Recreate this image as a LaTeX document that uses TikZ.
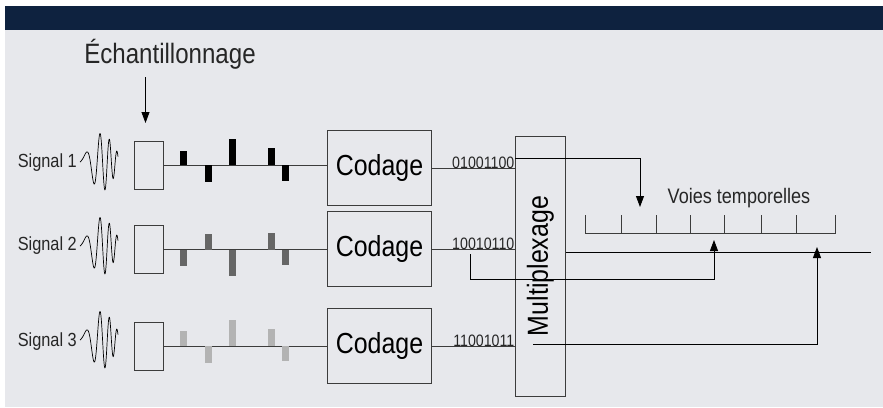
\documentclass[tikz,border=0pt]{standalone}
\usepackage{fontspec}
\setmainfont{Liberation Sans}[FakeStretch=0.86]
\usetikzlibrary{arrows.meta,positioning}

\definecolor{barblue}{HTML}{0E223F}
\definecolor{panel}{HTML}{E7E8EC}
\definecolor{boxline}{HTML}{3C3C3C}
\definecolor{pulsedark}{HTML}{666666}
\definecolor{pulselight}{HTML}{B3B3B3}

\begin{document}
\begin{tikzpicture}[x=1pt,y=-1pt,
  box/.style={draw=boxline,line width=0.9pt,inner sep=0pt},
  wire/.style={draw=boxline,line width=0.8pt},
  arr/.style={black,line width=0.8pt,-{Triangle[length=11pt,width=8pt]}},
  lbl/.style={inner sep=0pt,text=black!85}]
\useasboundingbox (0,0) rectangle (883,407);
\fill[white] (0,0) rectangle (883,407);
\fill[panel] (5,30) rectangle (883,407);
\fill[barblue] (5,6) rectangle (883,30);

% titre
\node[lbl,font=\fontsize{28}{30}\selectfont,anchor=base] (titre) at (170,63) {Échantillonnage};

% echantillonneurs
\node[box,minimum width=29pt,minimum height=48pt] (ech1) at (148.5,165) {};
\node[box,minimum width=29pt,minimum height=48pt] (ech2) at (148.5,249.5) {};
\node[box,minimum width=29pt,minimum height=48pt] (ech3) at (148.5,346) {};

% codeurs
\node[box,minimum width=104pt,minimum height=75pt,font=\fontsize{29}{31}\selectfont] (cod1) at (379.5,168) {Codage};
\node[box,minimum width=104pt,minimum height=75pt,font=\fontsize{29}{31}\selectfont] (cod2) at (379.5,249) {Codage};
\node[box,minimum width=104pt,minimum height=75pt,font=\fontsize{29}{31}\selectfont] (cod3) at (379.5,346) {Codage};

% multiplexeur (tourne : north = gauche, south = droite)
\node[box,rotate=90,minimum width=260pt,minimum height=50.7pt,font=\fontsize{29}{31}\selectfont] (mux) at (540.3,266) {Multiplexage};

% signaux
\node[lbl,font=\fontsize{19}{21}\selectfont,anchor=base east] (sig1) at (77,167) {Signal 1};
\node[lbl,font=\fontsize{19}{21}\selectfont,anchor=base east] (sig2) at (77,250) {Signal 2};
\node[lbl,font=\fontsize{19}{21}\selectfont,anchor=base east] (sig3) at (77,346) {Signal 3};
\foreach \yc in {162,246,340}
  \draw[line width=0.7pt] plot[domain=0:38,samples=160,variable=\u]
    ({80+\u},{\yc-29*exp(-((\u-22)/15)*((\u-22)/15))*sin(360*(0.0327*\u+0.00149*\u*\u))});

% liaisons
\foreach \i in {1,2,3} {
  \draw[wire] (ech\i.east) -- (ech\i.east -| cod\i.west);
  \draw[wire] (cod\i.east) -- (cod\i.east -| mux.north);
}

% echantillons
\foreach \dx/\h in {17/-14,42/17,66/-26,105/-17,119/16}
  \fill[black] ([xshift=\dx pt]ech1.east) rectangle ++(6.5,\h);
\foreach \dx/\h in {17/16,42/-16,66/26,105/-17,119/15}
  \fill[pulsedark] ([xshift=\dx pt]ech2.east) rectangle ++(6.5,\h);
\foreach \dx/\h in {17/-15,42/17,66/-26,105/-17,119/15}
  \fill[pulselight] ([xshift=\dx pt]ech3.east) rectangle ++(6.5,\h);

% mots binaires
\node[lbl,font=\fontsize{16.5}{18}\selectfont,anchor=base east] (bits1) at (cod1.east -| mux.north) {01001100};
\node[lbl,font=\fontsize{16.5}{18}\selectfont,anchor=base east] (bits2) at (cod2.east -| mux.north) {10010110};
\node[lbl,font=\fontsize{16.5}{18}\selectfont,anchor=base east] (bits3) at (cod3.east -| mux.north) {11001011};

% voies temporelles
\draw[boxline,line width=0.9pt] (585,215) -- (585,233) -- (835,233) -- (835,215);
\foreach \tx in {621.7,656,690,724,761.7,796}
  \draw[boxline,line width=0.9pt] (\tx,233) -- (\tx,215);
\node[lbl,font=\fontsize{21}{23}\selectfont,anchor=base] (voies) at (739,203.3) {Voies temporelles};

% fleches
\coordinate (eA) at (145.5,77);
\coordinate (eB) at (145.5,123);
\draw[arr] (eA) -- (eB);

\coordinate (m1) at (515.3,158);
\coordinate (t1) at (640,207);
\draw[arr] (m1) -| (t1);

\coordinate (m2) at (470,254);
\coordinate (t2) at (714,240);
\draw[arr] (m2) -- ++(0,25) -| (t2);

\coordinate (m3) at (533,344);
\coordinate (t3) at (817,247);
\draw[arr] (m3) -| (t3);

\coordinate (out) at (871,252);
\draw[black,line width=0.9pt] (mux.south |- out) -- (out);
\end{tikzpicture}
\end{document}
